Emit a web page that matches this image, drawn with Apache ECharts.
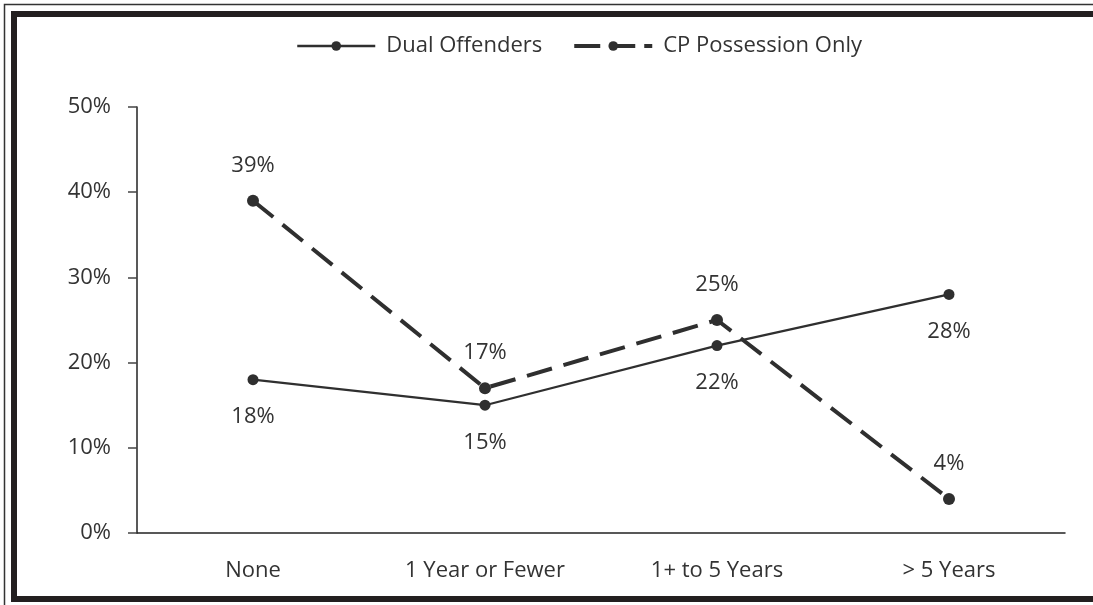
<!DOCTYPE html>
<html>
<head>
<meta charset="utf-8">
<script src="https://cdn.jsdelivr.net/npm/echarts@6/dist/echarts.min.js"></script>
<style>
  html, body { margin: 0; padding: 0; background: #fff; }
  #main { width: 1093px; height: 605px; }
</style>
</head>
<body>
<div id="main"></div>
<script>
// values
const categories = ["None", "1 Year or Fewer", "1+ to 5 Years", "> 5 Years"];
const dualOffenders = [18, 15, 22, 28];
const cpPossessionOnly = [39, 17, 25, 4];

const ink = "#2f2f2f";
const fontFamily = "'Open Sans', 'Noto Sans', sans-serif";

let chart = echarts.init(document.getElementById("main"));

let option = {
  backgroundColor: "#fff",
  animation: false,
  textStyle: { fontFamily: fontFamily, color: "#333" },
  graphic: [
    {
      type: "rect",
      shape: { x: 4.5, y: 4.5, width: 1200, height: 700 },
      style: { fill: "none", stroke: "#333", lineWidth: 1.5 }
    },
    {
      type: "rect",
      shape: { x: 14, y: 14, width: 1200, height: 585 },
      style: { fill: "none", stroke: "#231f20", lineWidth: 6 }
    }
  ],
  legend: {
    left: 291,
    top: 30,
    itemWidth: 78,
    itemHeight: 12,
    itemGap: 30,
    textStyle: { fontSize: 22, color: "#333", padding: [0, 0, 0, 6], fontFamily: fontFamily },
    data: [
      { name: "Dual Offenders", lineStyle: { width: 2.5 } },
      { name: "CP Possession Only", lineStyle: { width: 4, type: [26, 9] } }
    ]
  },
  grid: { left: 137, right: 28, top: 107, bottom: 72 },
  xAxis: {
    type: "category",
    data: categories,
    boundaryGap: true,
    axisLine: { lineStyle: { color: "#222", width: 1.5 } },
    axisTick: { show: false },
    axisLabel: { fontSize: 22, color: "#333", margin: 27 }
  },
  yAxis: {
    type: "value",
    min: 0,
    max: 50,
    interval: 10,
    splitLine: { show: false },
    axisLine: { show: true, lineStyle: { color: "#222", width: 1.5 } },
    axisTick: { show: true, length: 9, lineStyle: { color: "#444", width: 1.5 } },
    axisLabel: { formatter: "{value}%", fontSize: 22, color: "#333", margin: 26 }
  },
  series: [
    {
      name: "Dual Offenders",
      type: "line",
      data: dualOffenders,
      symbol: "circle",
      symbolSize: 11,
      color: ink,
      lineStyle: { color: ink, width: 2.2 },
      itemStyle: { color: ink },
      label: {
        show: true,
        position: "bottom",
        distance: 21,
        formatter: "{c}%",
        fontSize: 22,
        color: "#333"
      }
    },
    {
      name: "CP Possession Only",
      type: "line",
      data: cpPossessionOnly,
      symbol: "circle",
      symbolSize: 12,
      color: ink,
      lineStyle: { color: ink, width: 4, type: [26, 12] },
      itemStyle: { color: ink },
      label: {
        show: true,
        position: "top",
        distance: 18,
        formatter: "{c}%",
        fontSize: 22,
        color: "#333"
      }
    }
  ]
};

chart.setOption(option);
</script>
</body>
</html>
